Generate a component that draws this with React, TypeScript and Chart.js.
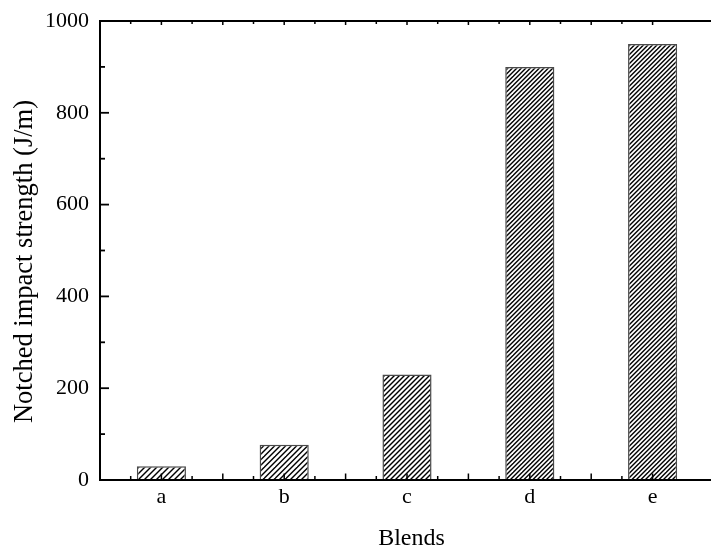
import React, { useEffect, useRef } from "react";
import { Chart, registerables } from "chart.js";

Chart.register(...registerables);

const categories = ["a", "b", "c", "d", "e"];
const impactStrength = [30, 77, 230, 900, 950];
const yTickValues = [0, 200, 400, 600, 800, 1000];
const yTitle = "Notched impact strength (J/m)";
const xTitle = "Blends";

const CANVAS_W = 714;
const CANVAS_H = 548;
const SERIF = "'Liberation Serif', 'Times New Roman', serif";

function makeHatch(tile: number, count: number): CanvasPattern | string {
  const c = document.createElement("canvas");
  c.width = tile;
  c.height = tile;
  const ctx = c.getContext("2d");
  if (!ctx) return "#fff";
  ctx.fillStyle = "#fff";
  ctx.fillRect(0, 0, tile, tile);
  ctx.strokeStyle = "#000";
  ctx.lineWidth = 1.4;
  const step = tile / count;
  for (let v = -step; v <= 2 * tile + step; v += step) {
    ctx.beginPath();
    ctx.moveTo(v + 3, -3);
    ctx.lineTo(-3, v + 3);
    ctx.stroke();
  }
  const p = ctx.createPattern(c, "repeat");
  return p || "#fff";
}

const axesPlugin = {
  id: "originAxes",
  afterDatasetsDraw(chart: any) {
    const { ctx, chartArea } = chart;
    const x = chart.scales.x;
    const y = chart.scales.y;
    const { left, right, top, bottom } = chartArea;
    ctx.save();
    ctx.strokeStyle = "#000";
    ctx.lineCap = "butt";
    // y ticks (inward)
    ctx.lineWidth = 1.8;
    for (let v = 0; v <= 1000; v += 100) {
      const py = y.getPixelForValue(v);
      const len = v % 200 === 0 ? 9 : 5;
      ctx.beginPath();
      ctx.moveTo(left, py);
      ctx.lineTo(left + len, py);
      ctx.stroke();
    }
    // x ticks (inward), bottom and top
    ctx.lineWidth = 1.5;
    for (let k = -2; k <= 18; k++) {
      const v = -0.5 + k * 0.25;
      const px = x.getPixelForValue(v);
      if (px <= left + 1 || px > right + 1) continue;
      const major = k % 2 === 0;
      const lenB = major ? 6.5 : 4;
      const lenT = major ? 4 : 3;
      ctx.beginPath();
      ctx.moveTo(px, bottom);
      ctx.lineTo(px, bottom - lenB);
      ctx.stroke();
      ctx.beginPath();
      ctx.moveTo(px, top);
      ctx.lineTo(px, top + lenT);
      ctx.stroke();
    }
    // axis lines
    ctx.lineWidth = 2;
    ctx.beginPath();
    ctx.moveTo(left, top);
    ctx.lineTo(right, top);
    ctx.moveTo(left, top - 1);
    ctx.lineTo(left, bottom + 1);
    ctx.moveTo(left - 1, bottom);
    ctx.lineTo(right, bottom);
    ctx.stroke();
    ctx.restore();
  },
  afterDraw(chart: any) {
    const { ctx, chartArea } = chart;
    ctx.save();
    ctx.fillStyle = "#000";
    // x title
    ctx.font = `24px ${SERIF}`;
    ctx.textAlign = "center";
    ctx.textBaseline = "alphabetic";
    ctx.fillText(xTitle, (chartArea.left + chartArea.right) / 2 + 4.5, 545);
    // y title
    ctx.font = `26.5px ${SERIF}`;
    ctx.translate(32, (chartArea.top + chartArea.bottom) / 2 + 11);
    ctx.rotate(-Math.PI / 2);
    ctx.fillText(yTitle, 0, 0);
    ctx.restore();
  },
};

export default function App() {
  const ref = useRef<HTMLCanvasElement | null>(null);

  useEffect(() => {
    const canvas = ref.current;
    if (!canvas) return;
    const hatchSpec: [number, number][] = [
      [6, 1],
      [11, 2],
      [5, 1],
      [9, 2],
      [9, 2],
    ];
    const patterns = hatchSpec.map(([t, n]) => makeHatch(t, n));
    const chart = new Chart(canvas, {
      type: "bar",
      data: {
        labels: categories,
        datasets: [
          {
            data: impactStrength,
            backgroundColor: patterns as any,
            borderColor: "#4a4a4a",
            borderWidth: 1.5,
            barPercentage: 0.4,
            categoryPercentage: 1,
          },
        ],
      },
      plugins: [axesPlugin],
      options: {
        animation: false,
        responsive: false,
        devicePixelRatio: 1,
        layout: { padding: { top: 21, left: 0, right: 0, bottom: 0 } },
        plugins: {
          legend: { display: false },
          tooltip: { enabled: false },
        },
        scales: {
          x: {
            type: "category",
            offset: true,
            grid: { display: false, drawTicks: false },
            border: { display: false },
            ticks: {
              color: "#000",
              padding: 4,
              font: { family: SERIF, size: 22, lineHeight: 1.2 },
            },
            afterFit(scale: any) {
              scale.height = 68;
              scale.paddingLeft = 0;
              scale.paddingRight = 0;
            },
          },
          y: {
            type: "linear",
            min: 0,
            max: 1000,
            afterBuildTicks(scale: any) {
              scale.ticks = yTickValues.map((v) => ({ value: v }));
            },
            grid: { display: false, drawTicks: false },
            border: { display: false },
            ticks: {
              color: "#000",
              padding: 11,
              font: { family: SERIF, size: 22, lineHeight: 1.2 },
              callback: (v: any) => String(v),
            },
            afterFit(scale: any) {
              scale.width = 100;
              scale.paddingTop = 0;
              scale.paddingBottom = 0;
            },
          },
        },
      },
    });
    return () => chart.destroy();
  }, []);

  return (
    <div
      style={{
        position: "fixed",
        left: 0,
        top: 0,
        width: 711,
        height: 548,
        overflow: "hidden",
        background: "#fff",
      }}
    >
      <canvas
        ref={ref}
        width={CANVAS_W}
        height={CANVAS_H}
        style={{ display: "block", width: CANVAS_W, height: CANVAS_H }}
      />
    </div>
  );
}
